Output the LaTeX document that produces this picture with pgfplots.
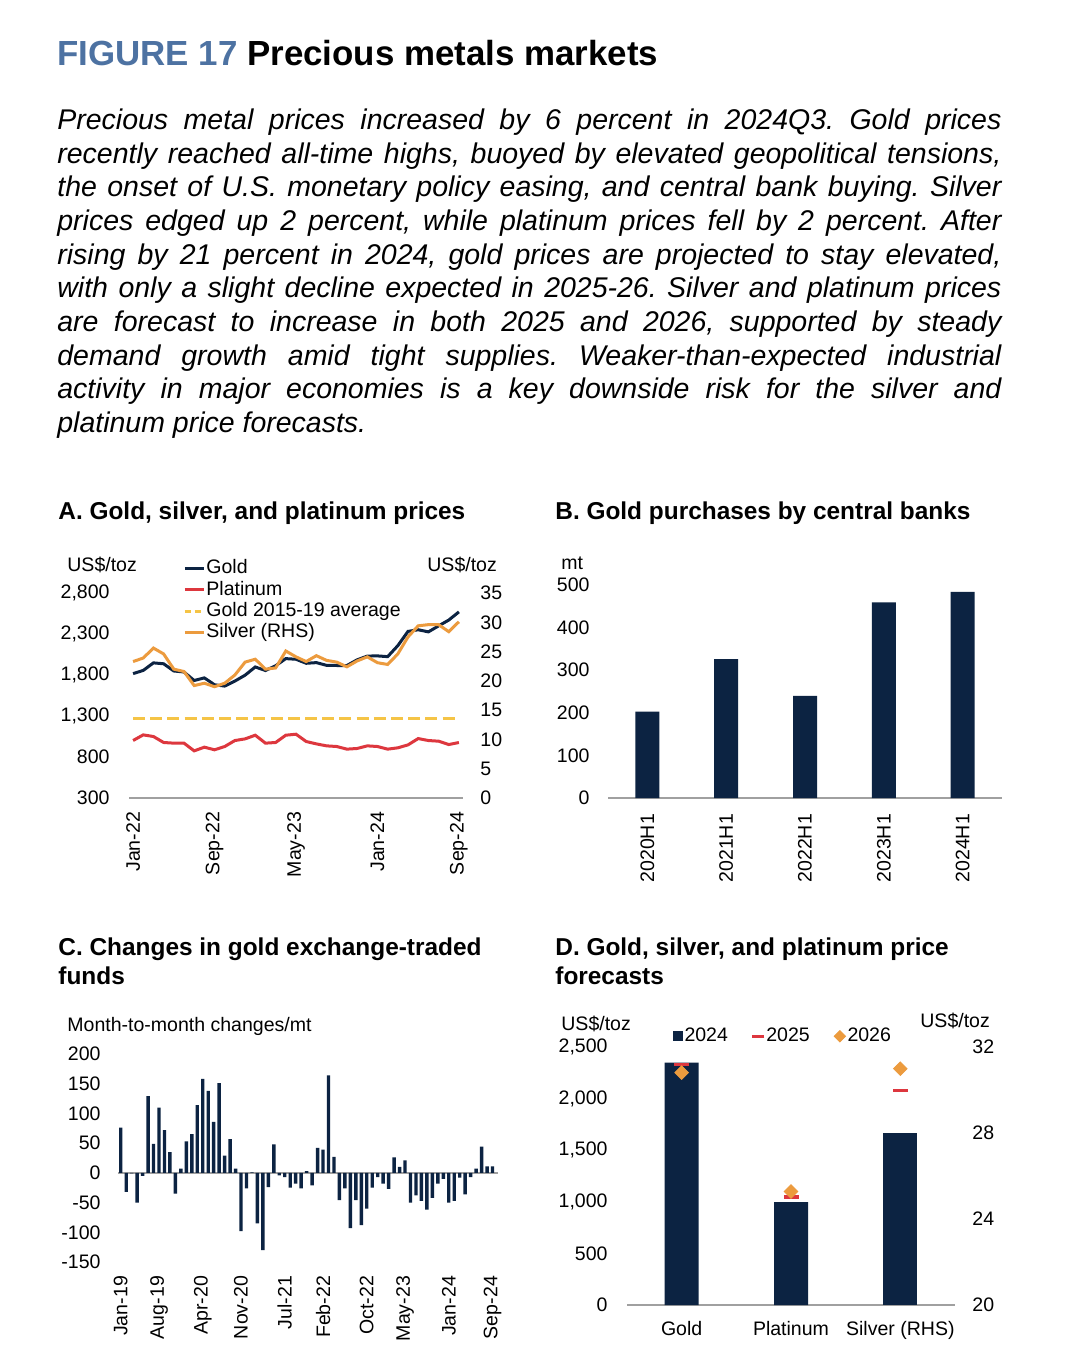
\documentclass[border=0pt]{standalone}
\usepackage{fontspec}
\setmainfont{Liberation Sans}
\usepackage{pgfplots}
\usepackage{pgfplotstable}
\pgfplotsset{compat=1.18}
\definecolor{navy}{RGB}{12,35,66}
\definecolor{pred}{RGB}{221,55,62}
\definecolor{porange}{RGB}{236,155,62}
\definecolor{pyellow}{RGB}{245,196,70}
\definecolor{figblue}{RGB}{77,114,162}
\definecolor{axgray}{RGB}{160,160,160}
\newcommand{\tfont}{\fontsize{9.8}{10.5}\selectfont}
\newcommand{\hfont}{\fontsize{12.25}{15}\selectfont\bfseries}
\pgfplotsset{
  base/.style={scale only axis, major tick length=0pt,
    tick label style={font=\tfont},
    /pgf/number format/assume math mode=true,
    /pgf/number format/1000 sep={,},
    axis line style={draw=none}},
}
\pgfplotstableread{
i gold plat silver
0 1817 1001 23.3
1 1856 1070 23.9
2 1948 1050 25.6
3 1937 977 24.6
4 1849 969 22.0
5 1837 969 21.6
6 1733 875 19.2
7 1765 920 19.6
8 1681 888 19.0
9 1665 928 19.6
10 1726 1001 21.0
11 1798 1021 23.2
12 1898 1066 23.7
13 1855 969 22.0
14 1913 977 22.2
15 2000 1066 25.1
16 1992 1078 24.1
17 1943 989 23.3
18 1951 960 24.3
19 1918 936 23.5
20 1916 928 23.2
21 1916 896 22.4
22 1985 904 23.4
23 2031 936 24.1
24 2033 928 23.1
25 2024 896 22.8
26 2158 912 24.6
27 2332 948 27.5
28 2352 1025 29.4
29 2326 1001 29.6
30 2399 993 29.6
31 2470 952 28.4
32 2570 977 30.1
}\metals
\pgfplotstableread{
etf
76
-32
-1
-50
-5
129
49
110
72
35
-35
7
53
65
114
158
138
86
151
29
57
7
-98
-26
1
-85
-130
-24
48
-4
-7
-25
-18
-26
3
-21
42
39
164
27
-46
-26
-93
-46
-88
-60
-25
-7
-18
-27
26
10
21
-50
-38
-47
-62
-42
-18
-10
-50
-47
-8
-36
-7
7
44
11
11
}\etf
\begin{document}
\frenchspacing
\begin{tikzpicture}
\useasboundingbox (0,0) rectangle (540bp,-686bp);
\fill[white] (0,0) rectangle (540bp,-686bp);
\begin{scope}[x=0.5bp,y=-0.5bp]
\node[anchor=base west, inner sep=0] at (57,65) {\fontsize{17.5}{20}\selectfont\bfseries\textcolor{figblue}{FIGURE 17} Precious metals markets};
\node[anchor=north west, inner sep=0, text width=472bp, align=justify,
  font=\fontsize{14.3}{16.9}\selectfont\itshape] at (57,107) {\frenchspacing\rule{0pt}{11bp}%
Precious metal prices increased by 6 percent in 2024Q3. Gold prices\linebreak
recently reached all-time highs, buoyed by elevated geopolitical tensions,\linebreak
the onset of U.S. monetary policy easing, and central bank buying. Silver\linebreak
prices edged up 2 percent, while platinum prices fell by 2 percent. After\linebreak
rising by 21 percent in 2024, gold prices are projected to stay elevated,\linebreak
with only a slight decline expected in 2025-26. Silver and platinum prices\linebreak
are forecast to increase in both 2025 and 2026, supported by steady\linebreak
demand growth amid tight supplies. Weaker-than-expected industrial\linebreak
activity in major economies is a key downside risk for the silver and\linebreak
platinum price forecasts.\par};
\node[anchor=base west, inner sep=0] at (58,520) {\hfont A. Gold, silver, and platinum prices};
\node[anchor=base west, inner sep=0] at (555,520) {\hfont B. Gold purchases by central banks};
\node[anchor=base west, inner sep=0] at (58,956) {\hfont C. Changes in gold exchange-traded};
\node[anchor=base west, inner sep=0] at (58,985) {\hfont funds};
\node[anchor=base west, inner sep=0] at (555,956) {\hfont D. Gold, silver, and platinum price};
\node[anchor=base west, inner sep=0] at (555,985) {\hfont forecasts};
\node[anchor=base west, inner sep=0] at (67,572) {\tfont US\$/toz};
\node[anchor=base west, inner sep=0] at (427,572) {\tfont US\$/toz};
\node[anchor=base west, inner sep=0] at (561,570) {\tfont mt};
\node[anchor=base west, inner sep=0] at (67,1032) {\tfont Month-to-month changes/mt};
\node[anchor=base west, inner sep=0] at (561,1031) {\tfont US\$/toz};
\node[anchor=base west, inner sep=0] at (920,1028) {\tfont US\$/toz};
\end{scope}

% ---------- Panel A ----------
\begin{axis}[base, at={(64.5bp,-399bp)}, anchor=south west,
  width=167bp, height=102.5bp,
  xmin=-0.4, xmax=32.4, ymin=300, ymax=2800,
  ytick={300,800,...,2800},
  xtick={0,8,16,24,32}, xticklabels={Jan-22,Sep-22,May-23,Jan-24,Sep-24},
  xticklabel style={rotate=90, anchor=east, xshift=-3.5bp},
  yticklabel style={xshift=-6.2bp},
  legend style={draw=none, fill=none, font=\tfont, at={(0.1617,1.167)}, anchor=north west,
    inner sep=0pt, row sep=1.35bp, legend cell align=left,
    nodes={inner ysep=0pt, inner xsep=0.5bp, text height=7.3bp, text depth=2bp}},
  legend image code/.code={\draw[#1] (0bp,0bp) -- (9.5bp,0bp);},
  clip=false]
\draw[axgray, line width=0.8bp] (rel axis cs:0,0) -- (rel axis cs:1,0);
\addplot[navy, line width=1.5bp, forget plot] table[x=i, y=gold] {\metals};
\addplot[pred, line width=1.5bp, forget plot] table[x=i, y=plat] {\metals};
\addplot[pyellow, line width=1.5bp, dash pattern=on 6bp off 2.6bp, forget plot] coordinates {(0,1265) (32,1265)};
\addlegendimage{navy, line width=1.5bp}\addlegendentry{Gold}
\addlegendimage{pred, line width=1.5bp}\addlegendentry{Platinum}
\addlegendimage{pyellow, line width=1.5bp, dash pattern=on 3bp off 2bp}\addlegendentry{Gold 2015-19 average}
\addlegendimage{porange, line width=1.5bp}\addlegendentry{Silver (RHS)}
\end{axis}
\begin{axis}[base, at={(64.5bp,-399bp)}, anchor=south west,
  width=167bp, height=102.5bp,
  xmin=-0.4, xmax=32.4, ymin=0, ymax=35,
  ytick={0,5,...,35}, xtick=\empty, yticklabel pos=right,
  yticklabel style={xshift=5.2bp}, clip=false]
\addplot[porange, line width=1.5bp] table[x=i, y=silver] {\metals};
\end{axis}

% ---------- Panel B ----------
\begin{axis}[base, at={(304bp,-399bp)}, anchor=south west,
  width=197bp, height=106.5bp,
  xmin=-0.5, xmax=4.5, ymin=0, ymax=500,
  ytick={0,100,...,500},
  xtick={0,1,2,3,4}, xticklabels={2020H1,2021H1,2022H1,2023H1,2024H1},
  xticklabel style={rotate=90, anchor=east, xshift=-4.5bp},
  yticklabel style={xshift=-5.7bp}, clip=false]
\draw[axgray, line width=0.8bp] (rel axis cs:0,0) -- (rel axis cs:1,0);
\addplot[ybar, bar width=12bp, fill=navy, draw=none] coordinates {(0,203) (1,326) (2,240) (3,459) (4,484)};
\end{axis}

% ---------- Panel C ----------
\begin{axis}[base, at={(59bp,-631bp)}, anchor=south west,
  width=190bp, height=104bp,
  xmin=-0.5, xmax=69, ymin=-150, ymax=200,
  ytick={-150,-100,...,200},
  xtick={0,7,15,22,30,37,45,52,60,68},
  xticklabels={Jan-19,Aug-19,Apr-20,Nov-20,Jul-21,Feb-22,Oct-22,May-23,Jan-24,Sep-24},
  xticklabel style={rotate=90, anchor=east, xshift=-3.5bp},
  yticklabel style={xshift=-5.2bp}, clip=false]
\draw[axgray, line width=0.8bp] (axis cs:-0.5,0) -- (axis cs:69,0);
\addplot[ybar, bar width=1.7bp, fill=navy, draw=none] table[x expr=\coordindex, y=etf] {\etf};
\end{axis}

% ---------- Panel D ----------
\begin{axis}[base, at={(313.5bp,-652.5bp)}, anchor=south west,
  width=164bp, height=128.9bp,
  xmin=-0.5, xmax=2.5, ymin=0, ymax=2500,
  ytick={0,500,...,2500},
  xtick={0,1,2}, xticklabels={Gold,Platinum,Silver (RHS)},
  xticklabel style={anchor=north, yshift=-4.7bp},
  yticklabel style={xshift=-6.2bp},
  legend columns=3,
  legend style={draw=none, fill=none, font=\tfont, at={(0.14,1.080)}, anchor=north west,
    inner sep=0pt, nodes={inner ysep=0pt, inner xsep=1bp, text height=7.3bp, text depth=2bp},
    /tikz/every even column/.append style={column sep=11.2bp}},
  legend image code/.code={\draw[mark repeat=2,mark phase=2,#1] plot coordinates {(0bp,0bp) (3bp,0bp) (6bp,0bp)};},
  clip=false]
\draw[axgray, line width=0.8bp] (rel axis cs:0,0) -- (rel axis cs:1,0);
\addplot[ybar, bar width=17bp, fill=navy, draw=none, forget plot] coordinates {(0,2351) (1,999)};
\addplot[only marks, mark=-, mark size=3.75bp, pred, mark options={line width=1.6bp}, forget plot] coordinates {(0,2329) (1,1048)};
\addplot[only marks, mark=square*, mark size=2.4bp, porange, mark options={rotate=45, draw=none}, forget plot] coordinates {(0,2254) (1,1100)};
\addlegendimage{only marks, mark=square*, mark size=2.3bp, navy, mark options={draw=none}}\addlegendentry{2024}
\addlegendimage{only marks, mark=-, mark size=3bp, pred, mark options={line width=1.3bp}}\addlegendentry{2025}
\addlegendimage{only marks, mark=square*, mark size=2bp, porange, mark options={rotate=45, draw=none}}\addlegendentry{2026}
\end{axis}
\begin{axis}[base, at={(313.5bp,-652.5bp)}, anchor=south west,
  width=164bp, height=128.9bp,
  xmin=-0.5, xmax=2.5, ymin=20, ymax=32,
  ytick={20,24,28,32}, xtick=\empty, yticklabel pos=right,
  yticklabel style={xshift=5.2bp}, clip=true]
\addplot[ybar, bar width=17bp, fill=navy, draw=none] coordinates {(2,28.0)};
\addplot[only marks, mark=-, mark size=3.75bp, pred, mark options={line width=1.6bp}] coordinates {(2,30.0)};
\addplot[only marks, mark=square*, mark size=2.4bp, porange, mark options={rotate=45, draw=none}] coordinates {(2,31.0)};
\end{axis}
\end{tikzpicture}
\end{document}
